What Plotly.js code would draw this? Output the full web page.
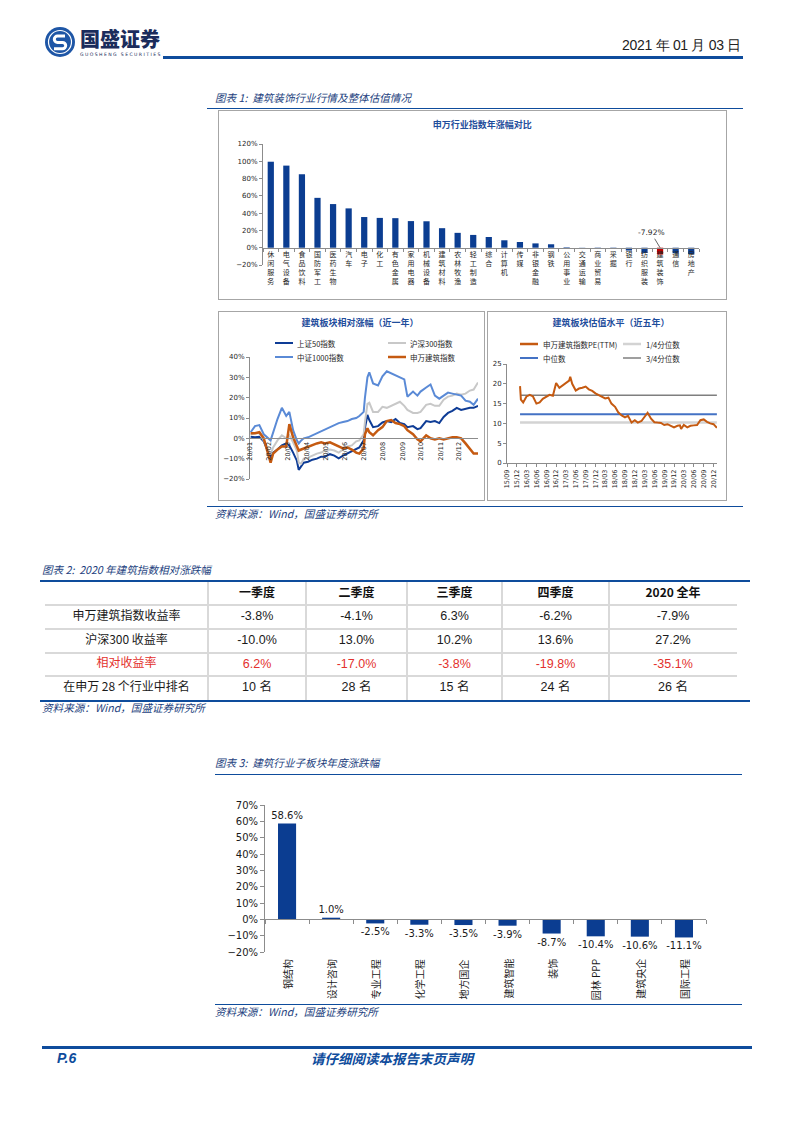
<!DOCTYPE html>
<html><head><meta charset="utf-8">
<script src="https://cdn.plot.ly/plotly-3.0.1.min.js"></script>
<style>
body{margin:0;background:#fff;}
#page{position:relative;width:793px;height:1122px;overflow:hidden;font-family:"Noto Sans CJK SC",sans-serif;background:#fff;}
.abs{position:absolute;}
.hline{position:absolute;background:#0E4C9C;}
.cap{position:absolute;font-style:italic;color:#243F7E;font-size:10.6px;white-space:nowrap;line-height:12px;}
.frame{position:absolute;border:1px solid #A6A6A6;box-sizing:border-box;}
</style></head>
<body><div id="page">
<svg class="abs" style="left:44px;top:26px" width="32" height="32" viewBox="0 0 32 32">
<circle cx="16" cy="16" r="15" fill="#1E56A6"/>
<circle cx="16" cy="16" r="11.5" fill="none" stroke="#fff" stroke-width="1.2"/>
<path d="M21 10 H13.5 a3.2 3.2 0 0 0 0 6.4 h5 a3.2 3.2 0 0 1 0 6.4 H10" fill="none" stroke="#fff" stroke-width="3"/>
</svg>
<div class="abs" style="left:80px;top:28px;font-size:20px;font-weight:900;color:#1B2C5C;line-height:22px;">国盛证券</div>
<div class="abs" style="left:80px;top:52px;font-size:4.6px;color:#1B2C5C;letter-spacing:1.4px;font-family:'DejaVu Sans';line-height:5px;">GUOSHENG SECURITIES</div>
<div class="abs" style="right:52px;top:37px;font-size:14px;letter-spacing:-0.3px;color:#222;font-family:'Liberation Sans';line-height:17px;">2021 年 01 月 03 日</div>
<div class="hline" style="left:163px;top:56px;width:580px;height:3px;"></div>

<div class="cap" style="left:215px;top:92px;">图表 1:&nbsp; 建筑装饰行业行情及整体估值情况</div>
<div class="hline" style="left:207px;top:108px;width:536px;height:1px;"></div>
<div class="frame" style="left:218px;top:110px;width:509px;height:190px;"></div>
<div class="frame" style="left:218px;top:311px;width:267px;height:190px;"></div>
<div class="frame" style="left:487px;top:311px;width:240px;height:190px;"></div>
<div id="c1" class="abs" style="left:218px;top:110px;width:509px;height:190px;"></div>
<div id="c2" class="abs" style="left:218px;top:311px;width:267px;height:190px;"></div>
<div id="c3" class="abs" style="left:487px;top:311px;width:240px;height:190px;"></div>
<div class="hline" style="left:207px;top:506px;width:536px;height:1px;"></div>
<div class="cap" style="left:215px;top:508px;">资料来源：Wind，国盛证券研究所</div>

<div class="cap" style="left:42px;top:564px;">图表 2:&nbsp; 2020 年建筑指数相对涨跌幅</div>
<div class="hline" style="left:40px;top:580px;width:710px;height:2px;"></div>
<div id="t1" class="abs" style="left:45px;top:582px;width:692px;height:118px;"></div>
<div class="hline" style="left:40px;top:700px;width:710px;height:1.5px;"></div>
<div class="cap" style="left:42px;top:702px;">资料来源：Wind，国盛证券研究所</div>

<div class="cap" style="left:215px;top:757px;">图表 3:&nbsp; 建筑行业子板块年度涨跌幅</div>
<div class="hline" style="left:215px;top:774px;width:527px;height:1px;"></div>
<div id="c4" class="abs" style="left:215px;top:780px;width:527px;height:223px;"></div>
<div class="hline" style="left:215px;top:1004px;width:527px;height:1px;"></div>
<div class="cap" style="left:215px;top:1006px;">资料来源：Wind，国盛证券研究所</div>

<div class="hline" style="left:42px;top:1046px;width:710px;height:3px;"></div>
<div class="abs" style="left:57px;top:1050px;font-size:14px;font-weight:bold;font-style:italic;color:#0E4C9C;font-family:'Liberation Sans';line-height:16px;">P.6</div>
<div class="abs" style="left:311px;top:1050px;font-size:13.5px;font-weight:bold;font-style:italic;color:#0E4C9C;line-height:16px;">请仔细阅读本报告末页声明</div>
</div>
<script>
// ---------- data ----------
const indCats = ['休闲服务','电气设备','食品饮料','国防军工','医药生物','汽车','电子','化工','有色金属','家用电器','机械设备','建筑材料','农林牧渔','轻工制造','综合','计算机','传媒','非银金融','钢铁','公用事业','交通运输','商业贸易','采掘','银行','纺织服装','建筑装饰','通信','房地产'];
const indVals = [99.5, 95.0, 85.0, 57.7, 50.5, 45.5, 35.5, 34.5, 34.2, 30.8, 30.6, 22.6, 17.2, 14.8, 12.4, 8.6, 6.6, 5.0, 4.0, 0.6, 0.2, -0.8, -1.2, -3.3, -6.0, -7.92, -6.5, -7.5];
const hlCat = '建筑装饰';

const relDates = ['2020-01-02','2020-01-09','2020-01-16','2020-01-23','2020-02-03','2020-02-07','2020-02-14','2020-02-21','2020-02-28','2020-03-04','2020-03-10','2020-03-16','2020-03-19','2020-03-23','2020-03-27','2020-04-03','2020-04-10','2020-04-17','2020-04-24','2020-04-30','2020-05-08','2020-05-15','2020-05-22','2020-05-29','2020-06-05','2020-06-12','2020-06-19','2020-06-24','2020-07-01','2020-07-03','2020-07-07','2020-07-10','2020-07-16','2020-07-24','2020-07-31','2020-08-07','2020-08-14','2020-08-21','2020-08-28','2020-09-04','2020-09-09','2020-09-18','2020-09-25','2020-09-30','2020-10-09','2020-10-16','2020-10-23','2020-10-30','2020-11-06','2020-11-13','2020-11-20','2020-11-27','2020-12-04','2020-12-11','2020-12-18','2020-12-24','2020-12-31'];
const sz50 = [0.8,0.5,0.8,-1.5,-9.5,-7,-5.5,-3.5,-2.5,-3.5,-7,-11,-15.5,-14,-12,-11.5,-10.5,-10,-9,-9,-7.8,-8.5,-9.8,-8.5,-7.5,-6.5,-5.5,-4.5,-1,5,11.5,9,5.5,6,7.8,8.5,8,9.5,7.5,7,5.5,6,4.5,5,8.5,8,8.5,7.5,10.5,12.5,13.5,15,14,14.5,15,15,16];
const hs300 = [1.8,2.5,2.5,-1,-8,-4.5,-1,1.5,0,1.5,-2,-6,-12,-12.5,-10,-9.5,-8.5,-7.5,-7,-6,-5.5,-6,-7,-5.5,-4,-3.5,-1.5,-1,2,8,17,17.5,13,13,15.5,15,16,17,18,16,14,12.5,12.5,13,16.5,17,16,16,19,20.5,21,22,21.5,22,23.5,24,27.5];
const zz1000 = [3,6,6.5,2,-1,3,9.5,15,11,13,4,-1,-2.5,-1,0,0.5,1.5,2.5,3.5,4.5,5.5,6.5,7.5,8,8.5,9.5,10,11,13,20,30,32.5,27,26,30.5,33,32,31,30,29,20.5,23,21,23,25,26.5,21,19.5,21,22.5,22,21.5,21,18.5,18,16.5,19.5];
const swjz = [2.5,2.5,3,0,-12,-7.5,-5.5,-4,-4,7,0.5,-4.5,-6,-5.5,-5,-4.5,-3.5,-2.5,-2,-2.5,-2,-3,-4,-5,-4.5,-5.5,-7,-7.5,-5,2,5,3,1.5,4,5.5,8.5,9,7.5,7,6,4,2,-0.5,-1.5,1.5,0,-0.5,0,-0.5,0,0.5,0.5,0,-2.5,-5.5,-7.5,-7.5];
const relNames = ['上证50指数','沪深300指数','中证1000指数','申万建筑指数'];

const peDates = ['2015-12-31','2016-01-08','2016-01-29','2016-02-29','2016-03-31','2016-04-29','2016-05-31','2016-06-30','2016-07-29','2016-08-31','2016-09-30','2016-10-31','2016-11-15','2016-11-30','2016-12-30','2017-01-26','2017-02-28','2017-03-31','2017-04-10','2017-04-28','2017-05-31','2017-06-30','2017-07-31','2017-08-31','2017-09-29','2017-10-31','2017-11-30','2017-12-29','2018-01-31','2018-02-28','2018-03-30','2018-04-27','2018-05-31','2018-06-29','2018-07-31','2018-08-31','2018-09-28','2018-10-31','2018-11-30','2018-12-28','2019-01-31','2019-02-28','2019-03-29','2019-04-30','2019-05-31','2019-06-28','2019-07-31','2019-08-30','2019-09-30','2019-10-31','2019-11-29','2019-12-31','2020-01-23','2020-02-03','2020-02-28','2020-03-31','2020-04-30','2020-05-29','2020-06-30','2020-07-31','2020-08-31','2020-09-30','2020-10-30','2020-11-30','2020-12-31'];
const peVals = [19.4,16.0,15.3,16.8,17.2,16.8,15.0,15.3,16.2,16.8,17.2,17.0,18.5,20.2,19.0,19.5,20.0,20.8,21.8,20.0,18.3,18.8,19.0,19.3,18.6,18.2,17.6,17.2,16.9,16.3,16.5,15.0,14.2,12.8,12.0,11.5,11.9,10.2,10.8,10.2,10.6,11.8,12.7,11.2,10.3,10.2,10.1,9.6,9.8,9.4,9.0,9.4,9.5,8.6,9.6,9.0,9.4,9.5,9.6,10.8,11.0,10.4,10.0,9.8,8.9];
const peQ1 = 10.2, peMed = 12.3, peQ3 = 17.1;
const peNames = ['申万建筑指数PE(TTM)','1/4分位数','中位数','3/4分位数'];

const tblHeader = ['', '一季度', '二季度', '三季度', '四季度', '2020 全年'];
const tblRowLabels = ['申万建筑指数收益率', '沪深300 收益率', '相对收益率', '在申万 28 个行业中排名'];
const rowSW = ['-3.8%','-4.1%','6.3%','-6.2%','-7.9%'];
const rowHS = ['-10.0%','13.0%','10.2%','13.6%','27.2%'];
const rowRel = ['6.2%','-17.0%','-3.8%','-19.8%','-35.1%'];
const rowRank = ['10 名','28 名','15 名','24 名','26 名'];

const subCats = ['钢结构','设计咨询','专业工程','化学工程','地方国企','建筑智能','装饰','园林 PPP','建筑央企','国际工程'];
const subVals = [58.6, 1.0, -2.5, -3.3, -3.5, -3.9, -8.7, -10.4, -10.6, -11.1];

// ---------- styles ----------
const CJK = "'Noto Sans CJK SC', sans-serif";
const NUM = "'DejaVu Sans', sans-serif";
const LIB = "'Liberation Sans', 'Noto Sans CJK SC', sans-serif";
const AX = '#8C8C8C';
const BLUE = '#0B3D91';
const RED = '#E3312D';
const cfg = {staticPlot:true, displayModeBar:false};
const base = {paper_bgcolor:'rgba(0,0,0,0)', plot_bgcolor:'rgba(0,0,0,0)', showlegend:false};
const titleFont = {family:CJK, size:9, color:'#1F4E9C', weight:700};

// ---------- chart 1: industry bars ----------
const stacked = indCats.map(c => c.split('').join('<br>'));
const hlIdx = indCats.indexOf(hlCat);
Plotly.newPlot('c1', [{
  type:'bar', x: stacked, y: indVals,
  marker:{color: indCats.map(c => c === hlCat ? '#C00000' : BLUE)},
  hoverinfo:'skip'
}], Object.assign({}, base, {
  width:509, height:190, margin:{l:45,r:28,t:34,b:35}, bargap:0.6,
  title:{text:'申万行业指数年涨幅对比', x:0.519, xanchor:'center', xref:'container', y:0.921, yanchor:'middle', yref:'container', font:titleFont},
  xaxis:{type:'category', anchor:'free', position:20/140, tickson:'boundaries', ticks:'outside', ticklen:3, tickcolor:AX,
         showline:true, linecolor:AX, linewidth:1, tickangle:0, tickfont:{family:CJK, size:7, color:'#262626'},
         showgrid:false, zeroline:false, range:[-0.5, indCats.length-0.5]},
  yaxis:{range:[-20,120], dtick:20, ticksuffix:'%', showline:true, linecolor:AX, ticks:'outside', ticklen:3, tickcolor:AX,
         showgrid:false, zeroline:false, tickfont:{family:NUM, size:7, color:'#262626'}},
  annotations:[{x:hlIdx, y:0, xref:'x', yref:'y', text: indVals[hlIdx].toFixed(2)+'%', showarrow:true, arrowhead:0,
    arrowwidth:0.8, arrowcolor:'#404040', ax:-9, ay:-15, standoff:0, font:{family:NUM, size:7.5, color:'#262626'}}]
}), cfg);

// ---------- chart 2: relative performance ----------
const relSeries = [sz50, hs300, zz1000, swjz];
const relColors = ['#0E3C96', '#C8C8C8', '#5A8AD6', '#C55A11'];
const relWidths = [2, 2, 2, 2.5];
const c2L = 250, c2R = 478, c2T = 357, c2B = 479;
const px2 = p => (p - c2L) / (c2R - c2L), py2 = p => (c2B - p) / (c2B - c2T);
const legPos2 = [[275, 343], [388, 343], [275, 357], [388, 357]];
Plotly.newPlot('c2', relSeries.map((s, i) => ({
  type:'scatter', mode:'lines', x: relDates, y: s, name: relNames[i],
  line:{color: relColors[i], width: relWidths[i]}, hoverinfo:'skip'
})), Object.assign({}, base, {
  width:267, height:190, margin:{l:c2L-218, r:485-c2R, t:c2T-311, b:501-c2B},
  title:{text:'建筑板块相对涨幅（近一年）', x:0.532, xanchor:'center', xref:'container', y:0.937, yanchor:'middle', yref:'container', font:titleFont},
  xaxis:{type:'date', range:['2020-01-01','2020-12-31'], anchor:'free', position:20/60, tick0:'2020-01-01', dtick:'M1',
         tickformat:'%y/%m', tickangle:-90, ticks:'', showline:true, linecolor:AX, showgrid:false, zeroline:false,
         tickfont:{family:NUM, size:6.5, color:'#262626'}},
  yaxis:{range:[-20,40], dtick:10, ticksuffix:'%', showline:true, linecolor:AX, ticks:'outside', ticklen:3, tickcolor:AX,
         showgrid:false, zeroline:false, tickfont:{family:NUM, size:7, color:'#262626'}},
  shapes: legPos2.map((p, i) => ({type:'line', xref:'paper', yref:'paper', x0:px2(p[0]), x1:px2(p[0]+18), y0:py2(p[1]), y1:py2(p[1]),
         line:{color: relColors[i], width: relWidths[i]}})),
  annotations: legPos2.map((p, i) => ({xref:'paper', yref:'paper', x:px2(p[0]+20), y:py2(p[1]), xanchor:'left', yanchor:'middle',
         text: relNames[i], showarrow:false, font:{family:CJK, size:7.5, color:'#262626'}}))
}), cfg);

// ---------- chart 3: PE valuation ----------
const peFirst = peDates[0], peLast = peDates[peDates.length-1];
const qVals = [peQ1, peMed, peQ3];
const qColors = ['#D3D3D3', '#4472C4', '#7F7F7F'];
const qWidths = [2.5, 2, 1.5];
const c3L = 507, c3R = 717, c3T = 364, c3B = 463;
const px3 = p => (p - c3L) / (c3R - c3L), py3 = p => (c3B - p) / (c3B - c3T);
const legColors3 = ['#C55A11', qColors[0], qColors[1], qColors[2]];
const legWidths3 = [2.5, qWidths[0], qWidths[1], qWidths[2]];
const legPos3 = [[520, 344], [623, 344], [520, 358], [623, 358]];
const peTraces = qVals.map((q, i) => ({type:'scatter', mode:'lines', x:[peFirst, peLast], y:[q, q], name: peNames[i+1],
  line:{color: qColors[i], width: qWidths[i]}, hoverinfo:'skip'}));
peTraces.push({type:'scatter', mode:'lines', x: peDates, y: peVals, name: peNames[0], line:{color:'#C55A11', width:2}, hoverinfo:'skip'});
Plotly.newPlot('c3', peTraces, Object.assign({}, base, {
  width:240, height:190, margin:{l:c3L-487, r:727-c3R, t:c3T-311, b:501-c3B},
  title:{text:'建筑板块估值水平（近五年）', x:0.517, xanchor:'center', xref:'container', y:0.937, yanchor:'middle', yref:'container', font:titleFont},
  xaxis:{type:'date', range:['2015-09-01','2021-01-01'], tick0:'2015-09-01', dtick:'M3', tickformat:'%y/%m', tickangle:-90,
         ticks:'outside', ticklen:3, tickcolor:AX, showline:true, linecolor:AX, showgrid:false, zeroline:false,
         tickfont:{family:NUM, size:6.5, color:'#262626'}},
  yaxis:{range:[0,25], dtick:5, showline:true, linecolor:AX, ticks:'outside', ticklen:3, tickcolor:AX,
         showgrid:false, zeroline:false, tickfont:{family:NUM, size:7, color:'#262626'}},
  shapes: legPos3.map((p, i) => ({type:'line', xref:'paper', yref:'paper', x0:px3(p[0]), x1:px3(p[0]+18), y0:py3(p[1]), y1:py3(p[1]),
         line:{color: legColors3[i], width: legWidths3[i]}})),
  annotations: legPos3.map((p, i) => ({xref:'paper', yref:'paper', x:px3(p[0]+21), y:py3(p[1]), xanchor:'left', yanchor:'middle',
         text: peNames[i], showarrow:false, font:{family:CJK, size:7.5, color:'#262626'}}))
}), cfg);

// ---------- table (drawn on cartesian scales) ----------
const colW = [163, 98, 101, 95, 107, 128];
const rowH = [23, 23.75, 23.75, 23.75, 23.75];
const colEdges = colW.reduce((a, w) => { a.push(a[a.length-1] + w); return a; }, [0]);
const rowEdges = rowH.reduce((a, h) => { a.push(a[a.length-1] + h); return a; }, [0]);
const colMid = colW.map((w, i) => colEdges[i] + w / 2);
const rowMid = rowH.map((h, i) => rowEdges[i] + h / 2);
const dataRows = [rowSW, rowHS, rowRel, rowRank];
const tx = [], ty = [], tt = [], tc = [], tf = [], ts = [];
tblHeader.forEach((h, j) => { if (h) { tx.push(colMid[j]); ty.push(rowMid[0]); tt.push('<b>' + h + '</b>'); tc.push('#111'); tf.push(CJK); ts.push(12); } });
dataRows.forEach((r, i) => {
  const col = i === 2 ? RED : '#1A1A1A';
  tx.push(colMid[0]); ty.push(rowMid[i+1]); tt.push(tblRowLabels[i]); tc.push(col); tf.push(CJK); ts.push(12);
  r.forEach((v, j) => { tx.push(colMid[j+1]); ty.push(rowMid[i+1]); tt.push(v); tc.push(col); tf.push(LIB); ts.push(12.5); });
});
const totW = colEdges[colEdges.length-1], totH = rowEdges[rowEdges.length-1];
Plotly.newPlot('t1', [{
  type:'scatter', mode:'text', x: tx, y: ty, text: tt, textposition:'middle center',
  textfont:{color: tc, family: tf, size: ts}, hoverinfo:'skip', cliponaxis:false
}], Object.assign({}, base, {
  width:692, height:118, margin:{l:0, r:0, t:0, b:0},
  xaxis:{range:[0, totW], tickmode:'array', tickvals: colEdges.slice(1), showticklabels:false, ticks:'', showgrid:true,
         gridcolor:'#D9D9D9', gridwidth:1.5, zeroline:false, showline:false},
  yaxis:{range:[totH, 0], tickmode:'array', tickvals: rowEdges.slice(1, -1), showticklabels:false, ticks:'', showgrid:true,
         gridcolor:'#D9D9D9', gridwidth:2, zeroline:false, showline:false}
}), cfg);

// ---------- chart 4: sub-sector bars ----------
Plotly.newPlot('c4', [{
  type:'bar', x: subCats, y: subVals, marker:{color: BLUE},
  text: subVals.map(v => v.toFixed(1) + '%'), textposition:'outside', constraintext:'none', cliponaxis:false,
  textfont:{family:NUM, size:10, color:'#1A1A1A'}, hoverinfo:'skip'
}], Object.assign({}, base, {
  width:527, height:223, margin:{l:50, r:36, t:25, b:51}, bargap:0.59,
  xaxis:{type:'category', anchor:'free', position:20/90, tickson:'boundaries', ticks:'outside', ticklen:4, tickcolor:AX,
         showline:true, linecolor:AX, showticklabels:false, showgrid:false, zeroline:false, range:[-0.5, subCats.length-0.5]},
  yaxis:{range:[-20,70], dtick:10, ticksuffix:'%', showline:true, linecolor:AX, ticks:'outside', ticklen:4, tickcolor:AX,
         showgrid:false, zeroline:false, tickfont:{family:NUM, size:10, color:'#1A1A1A'}},
  annotations: subCats.map(c => ({x:c, y:0, xref:'x', yref:'paper', yanchor:'top', xanchor:'center', yshift:-5,
         textangle:-90, text:c, showarrow:false, font:{family:CJK, size:10, color:'#1A1A1A'}}))
}), cfg);
</script>
</body></html>
